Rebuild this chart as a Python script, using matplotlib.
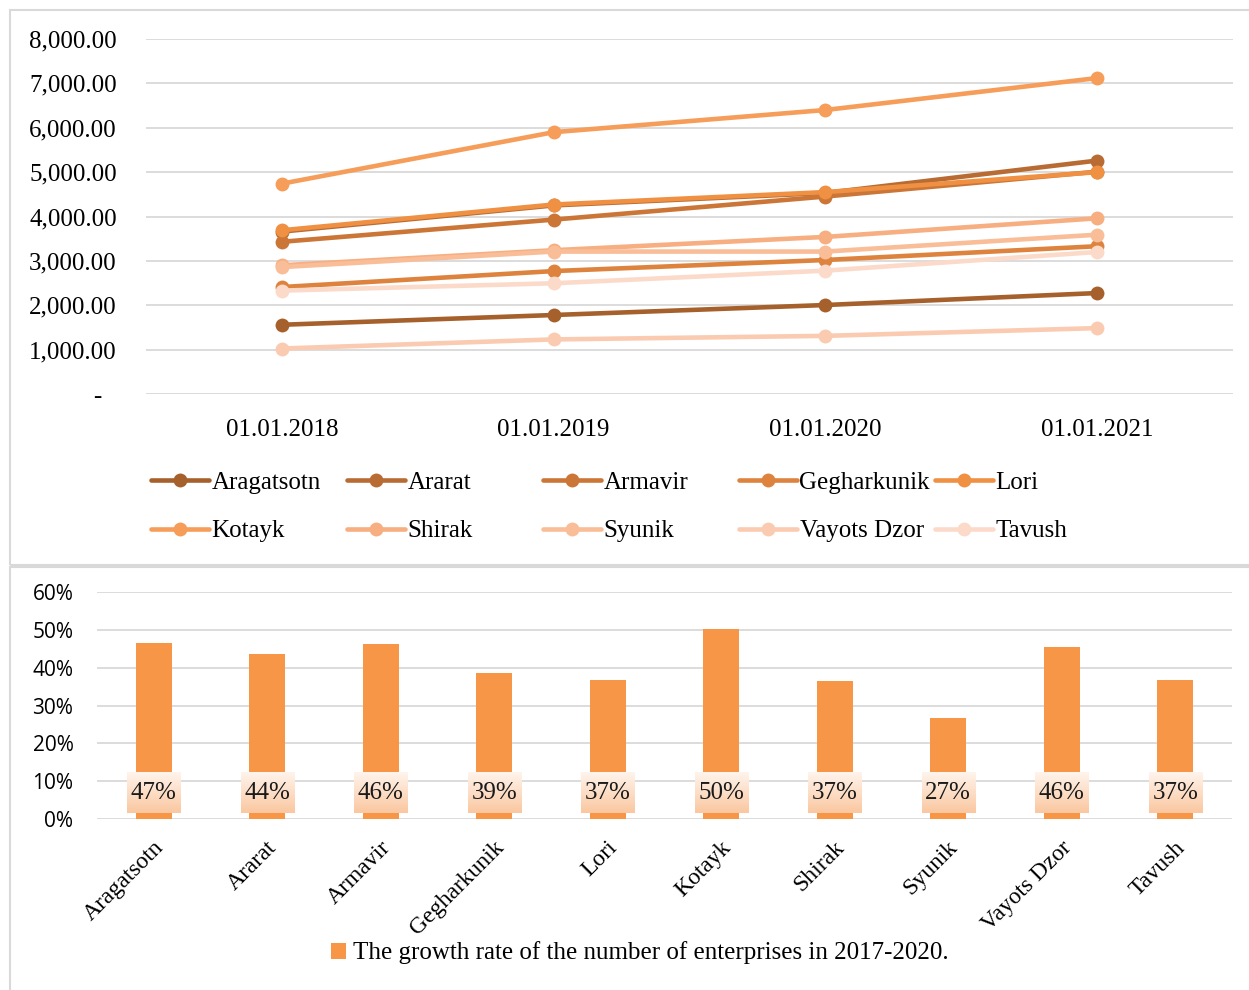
import matplotlib
matplotlib.use("Agg")
import matplotlib.pyplot as plt
from matplotlib.patches import Rectangle, Patch
from matplotlib.transforms import ScaledTranslation
import matplotlib.colors as mcolors
import numpy as np

# ---------------- data ----------------
dates = ['01.01.2018', '01.01.2019', '01.01.2020', '01.01.2021']
regions = ['Aragatsotn', 'Ararat', 'Armavir', 'Gegharkunik', 'Lori',
           'Kotayk', 'Shirak', 'Syunik', 'Vayots Dzor', 'Tavush']
aragatsotn = [1560, 1780, 2005, 2275]
ararat = [3660, 4250, 4530, 5260]
armavir = [3430, 3930, 4450, 5010]
gegharkunik = [2410, 2770, 3020, 3330]
lori = [3690, 4270, 4550, 5000]
kotayk = [4740, 5900, 6400, 7120]
shirak = [2900, 3240, 3540, 3960]
syunik = [2860, 3210, 3210, 3590]
vayots_dzor = [1025, 1230, 1310, 1485]
tavush = [2330, 2495, 2780, 3200]
series = [aragatsotn, ararat, armavir, gegharkunik, lori,
          kotayk, shirak, syunik, vayots_dzor, tavush]

growth = [0.466, 0.435, 0.462, 0.387, 0.368, 0.502, 0.366, 0.266, 0.455, 0.368]
growth_labels = ['47%', '44%', '46%', '39%', '37%', '50%', '37%', '27%', '46%', '37%']
bar_legend = 'The growth rate of the number of enterprises in 2017-2020.'

top_yticks = [0, 1000, 2000, 3000, 4000, 5000, 6000, 7000, 8000]
top_yticklabels = ['-', '1,000.00', '2,000.00', '3,000.00', '4,000.00',
                   '5,000.00', '6,000.00', '7,000.00', '8,000.00']
bot_yticks = [0, 0.1, 0.2, 0.3, 0.4, 0.5, 0.6]
bot_yticklabels = ['0%', '10%', '20%', '30%', '40%', '50%', '60%']

# ---------------- style ----------------
colors = ['#A5602C', '#B86B32', '#CB7637', '#DE833D', '#EF9042',
          '#F59D59', '#F7AE80', '#F9BD98', '#FACBB0', '#FCDACA']
bar_color = '#F79646'
grid_color = '#D9D9D9'
SERIF = 'Liberation Serif'
SANS = 'Open Sans'
FS = 18

W, H = 1249, 990
fig = plt.figure(figsize=(W / 100, H / 100), dpi=100)
fig.patch.set_facecolor('white')

def fx(px):
    return px / W

def fy(py):
    return 1 - py / H

# panel frames
fig.patches.append(Rectangle((fx(10), fy(565)), fx(1300) - fx(10), fy(10) - fy(565),
                             transform=fig.transFigure, fill=False,
                             edgecolor=grid_color, linewidth=1.5))
fig.patches.append(Rectangle((fx(10), fy(1000)), fx(1300) - fx(10), fy(567) - fy(1000),
                             transform=fig.transFigure, fill=False,
                             edgecolor=grid_color, linewidth=1.5))

# ---------------- top line chart ----------------
ax1 = fig.add_axes([fx(146), fy(394), fx(1233) - fx(146), fy(39) - fy(394)])
x = np.arange(len(dates))
handles = []
for name, vals, c in zip(regions, series, colors):
    h, = ax1.plot(x, vals, color=c, linewidth=3.3, marker='o', markersize=10,
                  markeredgewidth=0, solid_capstyle='round', label=name, zorder=3)
    handles.append(h)
ax1.set_xlim(-0.5, len(dates) - 0.5)
ax1.set_ylim(0, 8000)
ax1.set_yticks(top_yticks)
ax1.set_yticklabels(top_yticklabels, fontfamily=SERIF, fontsize=FS)
ax1.set_xticks(x)
ax1.set_xticklabels(dates, fontfamily=SERIF, fontsize=FS)
ax1.tick_params(axis='y', length=0, pad=21)
ax1.tick_params(axis='x', length=0, pad=18)
ax1.grid(axis='y', color=grid_color, linewidth=1.3)
ax1.set_axisbelow(True)
for s in ax1.spines.values():
    s.set_visible(False)
# accounting style dash for zero
zlab = ax1.get_yticklabels()[0]
zlab.set_transform(zlab.get_transform() + ScaledTranslation(-0.15, 0, fig.dpi_scale_trans))

# legend: 5 fixed-width columns, 2 rows
for k in range(5):
    hs = [handles[k], handles[k + 5]]
    fig.legend(hs, [regions[k], regions[k + 5]], loc='upper left',
               bbox_to_anchor=(fx(151 + 196 * k), fy(471)),
               frameon=False, ncol=1, numpoints=1,
               prop={'family': SERIF, 'size': FS},
               handlelength=2.3, handletextpad=0.12, labelspacing=1.05,
               borderpad=0, borderaxespad=0)

# ---------------- bottom bar chart ----------------
ax2 = fig.add_axes([fx(97), fy(819), fx(1232) - fx(97), fy(592) - fy(819)])
xb = np.arange(len(regions))
ax2.bar(xb, growth, width=0.32, color=bar_color, zorder=2, label=bar_legend)
ax2.set_xlim(-0.5, len(regions) - 0.5)
ax2.set_ylim(0, 0.6)
ax2.set_yticks(bot_yticks)
ax2.set_yticklabels(bot_yticklabels, fontfamily=SANS, fontsize=15)
ax2.tick_params(axis='y', length=0, pad=17)
ax2.set_xticks(xb)
ax2.set_xticklabels(regions, fontfamily=SERIF, fontsize=17, rotation=45,
                    ha='right', va='top', rotation_mode='anchor')
ax2.tick_params(axis='x', length=0, pad=13)
for lab in ax2.get_xticklabels():
    lab.set_transform(lab.get_transform() + ScaledTranslation(-0.01, 0, fig.dpi_scale_trans))
ax2.grid(axis='y', color=grid_color, linewidth=1.3)
ax2.set_axisbelow(True)
for s in ax2.spines.values():
    s.set_visible(False)

# gradient label boxes
grad_cmap = mcolors.LinearSegmentedColormap.from_list('lblgrad', ['#FFF4EC', '#FAC7A0'])
grad = np.linspace(0, 1, 64).reshape(-1, 1)
label_y = 0.068
box_hw = 0.234
box_hh = 0.053
for xi, lab in zip(xb, growth_labels):
    ax2.imshow(grad, cmap=grad_cmap, aspect='auto', origin='upper', zorder=4,
               extent=(xi - box_hw, xi + box_hw, label_y - box_hh, label_y + box_hh),
               interpolation='bilinear')
    ax2.text(xi, label_y, lab, ha='center', va='center', fontfamily=SERIF,
             fontsize=FS, color='#1a1a1a', zorder=5)
ax2.set_xlim(-0.5, len(regions) - 0.5)
ax2.set_ylim(0, 0.6)

fig.legend([Patch(facecolor=bar_color)], [bar_legend], loc='center',
           bbox_to_anchor=(fx(640), fy(953)), frameon=False,
           prop={'family': SERIF, 'size': FS}, handlelength=0.6,
           handleheight=0.6, handletextpad=0.3)

fig.savefig('out.png', dpi=100)
